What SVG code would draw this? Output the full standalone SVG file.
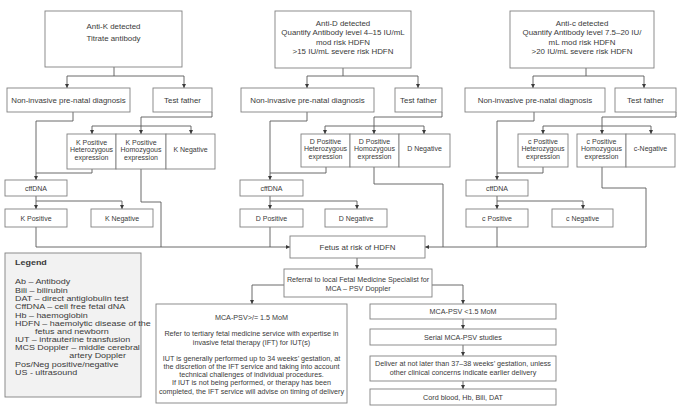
<svg xmlns="http://www.w3.org/2000/svg" width="679" height="414" viewBox="0 0 679 414">
<style>
rect{fill:#fff;stroke:#808080;stroke-width:0.9}
text{font-family:"Liberation Sans",Arial,sans-serif;fill:#3a3a3a;text-anchor:middle}
.tl{font-size:7.9px}
.t{font-size:7.4px}
.ts{font-size:7.0px}
.b{font-size:7.2px}
.lg{font-size:7.6px;text-anchor:start}
#legend rect{fill:#f2f2f2}
#connectors path{fill:none;stroke:#5a5a5a;stroke-width:0.9}
.a{marker-end:url(#arr)}
</style>
<defs>
<marker id="arr" viewBox="0 0 6 6" refX="6" refY="3" markerWidth="4" markerHeight="4" markerUnits="userSpaceOnUse" orient="auto">
<path d="M0,0 L6,3 L0,6 z" fill="#3a3a3a"/>
</marker>
</defs>
<rect x="0" y="0" width="679" height="414" style="fill:#fff;stroke:none"/>

<g id="connectors">
<!-- K -->
<path d="M114 67 V76"/><path d="M67 76 H184"/>
<path class="a" d="M67 76 V88"/><path class="a" d="M184 76 V88"/>
<path class="a" d="M73 112 V121 H36 V180"/>
<path d="M212 112 V117 H141 V126"/><path d="M92 126 H191"/>
<path class="a" d="M92 126 V134"/><path class="a" d="M141 126 V134"/><path class="a" d="M191 126 V134"/>
<path d="M92 169 V173 H36"/>
<path d="M36 196 V201 H122"/>
<path class="a" d="M36 201 V209"/><path class="a" d="M122 201 V209"/>
<path class="a" d="M36 227 V247 H290"/>
<path d="M141 169 V202 H161 V247"/>
<!-- D -->
<path d="M343 68 V76"/><path d="M307 76 H418"/>
<path class="a" d="M307 76 V88"/><path class="a" d="M418 76 V88"/>
<path class="a" d="M307 112 V121 H270 V180"/>
<path d="M442 112 V117 H374 V126"/><path d="M325 126 H424"/>
<path class="a" d="M325 126 V134"/><path class="a" d="M374 126 V134"/><path class="a" d="M424 126 V134"/>
<path d="M326 167 V173 H270"/>
<path d="M270 196 V201 H357"/>
<path class="a" d="M270 201 V209"/><path class="a" d="M357 201 V209"/>
<path d="M270 227 V247"/>
<path d="M374 167 V184 H443 V247"/>
<!-- c -->
<path d="M586 68 V76"/><path d="M533 76 H644"/>
<path class="a" d="M533 76 V88"/><path class="a" d="M644 76 V88"/>
<path class="a" d="M534 112 V121 H497 V180"/>
<path d="M676 112 V117 H602 V126"/><path d="M543 126 H651"/>
<path class="a" d="M543 126 V134"/><path class="a" d="M602 126 V134"/><path class="a" d="M651 126 V134"/>
<path d="M543 167 V173 H497"/>
<path d="M497 196 V201 H583"/>
<path class="a" d="M497 201 V209"/><path class="a" d="M583 201 V209"/>
<path d="M497 227 V247"/>
<path d="M602 167 V188 H646 V247"/>
<path class="a" d="M646 247 H425"/>
<!-- bottom -->
<path class="a" d="M357 258 V269"/>
<path class="a" d="M284 285 H252 V304"/>
<path class="a" d="M432 285 H463 V304"/>
<path class="a" d="M463 319 V329"/>
<path class="a" d="M463 345 V356"/>
<path class="a" d="M463 381 V389"/>
</g>

<!-- K column -->
<g id="antiK"><rect x="45" y="11" width="137" height="56"/>
<text class="tl" x="113.5" y="28.8">Anti-K detected</text>
<text class="tl" x="113.5" y="40.8">Titrate antibody</text></g>
<g id="nipdK"><rect x="7" y="88" width="123" height="24"/><text class="tl" x="68.5" y="102.8">Non-invasive pre-natal diagnosis</text></g>
<g id="fatherK"><rect x="153" y="88" width="59" height="24"/><text class="tl" x="182.5" y="102.8">Test father</text></g>
<g id="kHet"><rect x="67" y="134" width="49" height="35"/>
<text class="ts" x="91.5" y="144.5">K Positive</text><text class="ts" x="91.5" y="152">Heterozygous</text><text class="ts" x="91.5" y="159.5">expression</text></g>
<g id="kHom"><rect x="116" y="134" width="50" height="35"/>
<text class="ts" x="141" y="144.5">K Positive</text><text class="ts" x="141" y="152">Homozygous</text><text class="ts" x="141" y="159.5">expression</text></g>
<g id="kNeg"><rect x="166" y="134" width="49" height="35"/><text class="ts" x="190.5" y="152">K Negative</text></g>
<g id="cffK"><rect x="5" y="180" width="62" height="16"/><text class="ts" x="36" y="190.5">cffDNA</text></g>
<g id="kPos2"><rect x="5" y="209" width="62" height="18"/><text class="ts" x="36" y="220.5">K Positive</text></g>
<g id="kNeg2"><rect x="91" y="209" width="62" height="18"/><text class="ts" x="122" y="220.5">K Negative</text></g>

<!-- D column -->
<g id="antiD"><rect x="275" y="11" width="136" height="57"/>
<text class="tl" x="343" y="25.8">Anti-D detected</text>
<text class="tl" x="343" y="35.3">Quantify Antibody level 4–15 IU/mL</text>
<text class="tl" x="343" y="44.8">mod risk HDFN</text>
<text class="tl" x="343" y="54.3">&gt;15 IU/mL severe risk HDFN</text></g>
<g id="nipdD"><rect x="241" y="88" width="133" height="24"/><text class="tl" x="307.5" y="102.8">Non-invasive pre-natal diagnosis</text></g>
<g id="fatherD"><rect x="395" y="88" width="47" height="24"/><text class="tl" x="418.5" y="102.8">Test father</text></g>
<g id="dHet"><rect x="301" y="134" width="49" height="33"/>
<text class="ts" x="325.5" y="143.5">D Positive</text><text class="ts" x="325.5" y="151">Heterozygous</text><text class="ts" x="325.5" y="158.5">expression</text></g>
<g id="dHom"><rect x="350" y="134" width="49" height="33"/>
<text class="ts" x="374.5" y="143.5">D Positive</text><text class="ts" x="374.5" y="151">Homozygous</text><text class="ts" x="374.5" y="158.5">expression</text></g>
<g id="dNeg"><rect x="399" y="134" width="51" height="33"/><text class="ts" x="424.5" y="151">D Negative</text></g>
<g id="cffD"><rect x="240" y="180" width="63" height="16"/><text class="ts" x="271.5" y="190.5">cffDNA</text></g>
<g id="dPos2"><rect x="240" y="209" width="63" height="18"/><text class="ts" x="271.5" y="220.5">D Positive</text></g>
<g id="dNeg2"><rect x="325" y="209" width="62" height="18"/><text class="ts" x="356" y="220.5">D Negative</text></g>

<!-- c column -->
<g id="antic"><rect x="510" y="11" width="144" height="57"/>
<text class="tl" x="582" y="25.8">Anti-c detected</text>
<text class="tl" x="582" y="35.3">Quantify Antibody level 7.5–20 IU/</text>
<text class="tl" x="582" y="44.8">mL mod risk HDFN</text>
<text class="tl" x="582" y="54.3">&gt;20 IU/mL severe risk HDFN</text></g>
<g id="nipdc"><rect x="465" y="88" width="140" height="24"/><text class="tl" x="535" y="102.8">Non-invasive pre-natal diagnosis</text></g>
<g id="fatherc"><rect x="615" y="88" width="61" height="24"/><text class="tl" x="645.5" y="102.8">Test father</text></g>
<g id="cHet"><rect x="518" y="134" width="50" height="33"/>
<text class="ts" x="543" y="143.5">c  Positive</text><text class="ts" x="543" y="151">Heterozygous</text><text class="ts" x="543" y="158.5">expression</text></g>
<g id="cHom"><rect x="577" y="134" width="49" height="33"/>
<text class="ts" x="601.5" y="143.5">c Positive</text><text class="ts" x="601.5" y="151">Homozygous</text><text class="ts" x="601.5" y="158.5">expression</text></g>
<g id="cNeg"><rect x="626" y="134" width="49" height="33"/><text class="ts" x="650.5" y="151">c-Negative</text></g>
<g id="cffc"><rect x="466" y="180" width="62" height="16"/><text class="ts" x="497" y="190.5">cffDNA</text></g>
<g id="cPos2"><rect x="466" y="209" width="62" height="18"/><text class="ts" x="497" y="220.5">c Positive</text></g>
<g id="cNeg2"><rect x="552" y="209" width="61" height="18"/><text class="ts" x="582.5" y="220.5">c Negative</text></g>

<!-- centre -->
<g id="fetus"><rect x="290" y="236" width="135" height="22"/><text class="tl" x="357.5" y="249.8">Fetus at risk of HDFN</text></g>
<g id="referral"><rect x="284" y="269" width="148" height="28"/>
<text class="b" x="358" y="281.5">Referral to local Fetal Medicine Specialist for</text>
<text class="b" x="358" y="290.5">MCA – PSV Doppler</text></g>

<g id="highMCA"><rect x="156" y="304" width="191" height="99"/>
<text class="b" x="251.5" y="319.5">MCA-PSV&gt;/= 1.5 MoM</text>
<text class="b" x="251.5" y="335.5">Refer to tertiary fetal medicine service with expertise in</text>
<text class="b" x="251.5" y="344.5">invasive fetal therapy (IFT) for IUT(s)</text>
<text class="b" x="251.5" y="360.5">IUT is generally performed up to 34 weeks’ gestation, at</text>
<text class="b" x="251.5" y="368.8">the discretion of the IFT service and taking into account</text>
<text class="b" x="251.5" y="377.1">technical challenges of individual procedures.</text>
<text class="b" x="251.5" y="385.4">If IUT is not being performed, or therapy has been</text>
<text class="b" x="251.5" y="393.7">completed, the IFT service will advise on timing of delivery</text></g>

<g id="lowMCA"><rect x="370" y="304" width="186" height="15"/><text class="b" x="463" y="314.2">MCA-PSV &lt;1.5 MoM</text></g>
<g id="serial"><rect x="370" y="329" width="186" height="16"/><text class="b" x="463" y="339.7">Serial MCA-PSV studies</text></g>
<g id="deliver"><rect x="370" y="356" width="186" height="25"/>
<text class="b" x="463" y="365.7">Deliver at not later than 37–38 weeks’ gestation, unless</text>
<text class="b" x="463" y="374.5">other clinical concerns indicate earlier delivery</text></g>
<g id="cord"><rect x="370" y="389" width="186" height="16"/><text class="b" x="463" y="399.7">Cord blood, Hb, Bili, DAT</text></g>

<g id="legend"><rect x="5" y="253" width="136" height="144"/>
<g transform="translate(15 0) scale(1.18 1) translate(-15 0)">
<text class="lg" x="15" y="265" font-weight="bold">Legend</text>
<text class="lg" x="15" y="284.4">Ab – Antibody</text>
<text class="lg" x="15" y="292.7">Bili – bilirubin</text>
<text class="lg" x="15" y="301">DAT – direct antiglobulin test</text>
<text class="lg" x="15" y="309.4">CffDNA – cell free fetal dNA</text>
<text class="lg" x="15" y="317.7">Hb – haemoglobin</text>
<text class="lg" x="15" y="326">HDFN – haemolytic disease of the</text>
<text class="lg" x="32" y="333.8">fetus and newborn</text>
<text class="lg" x="15" y="342">IUT – intrauterine transfusion</text>
<text class="lg" x="15" y="350.4">MCS Doppler – middle cerebral</text>
<text class="lg" x="61" y="358.4">artery Doppler</text>
<text class="lg" x="15" y="366.7">Pos/Neg positive/negative</text>
<text class="lg" x="15" y="375">US - ultrasound</text>
</g></g>
</svg>
